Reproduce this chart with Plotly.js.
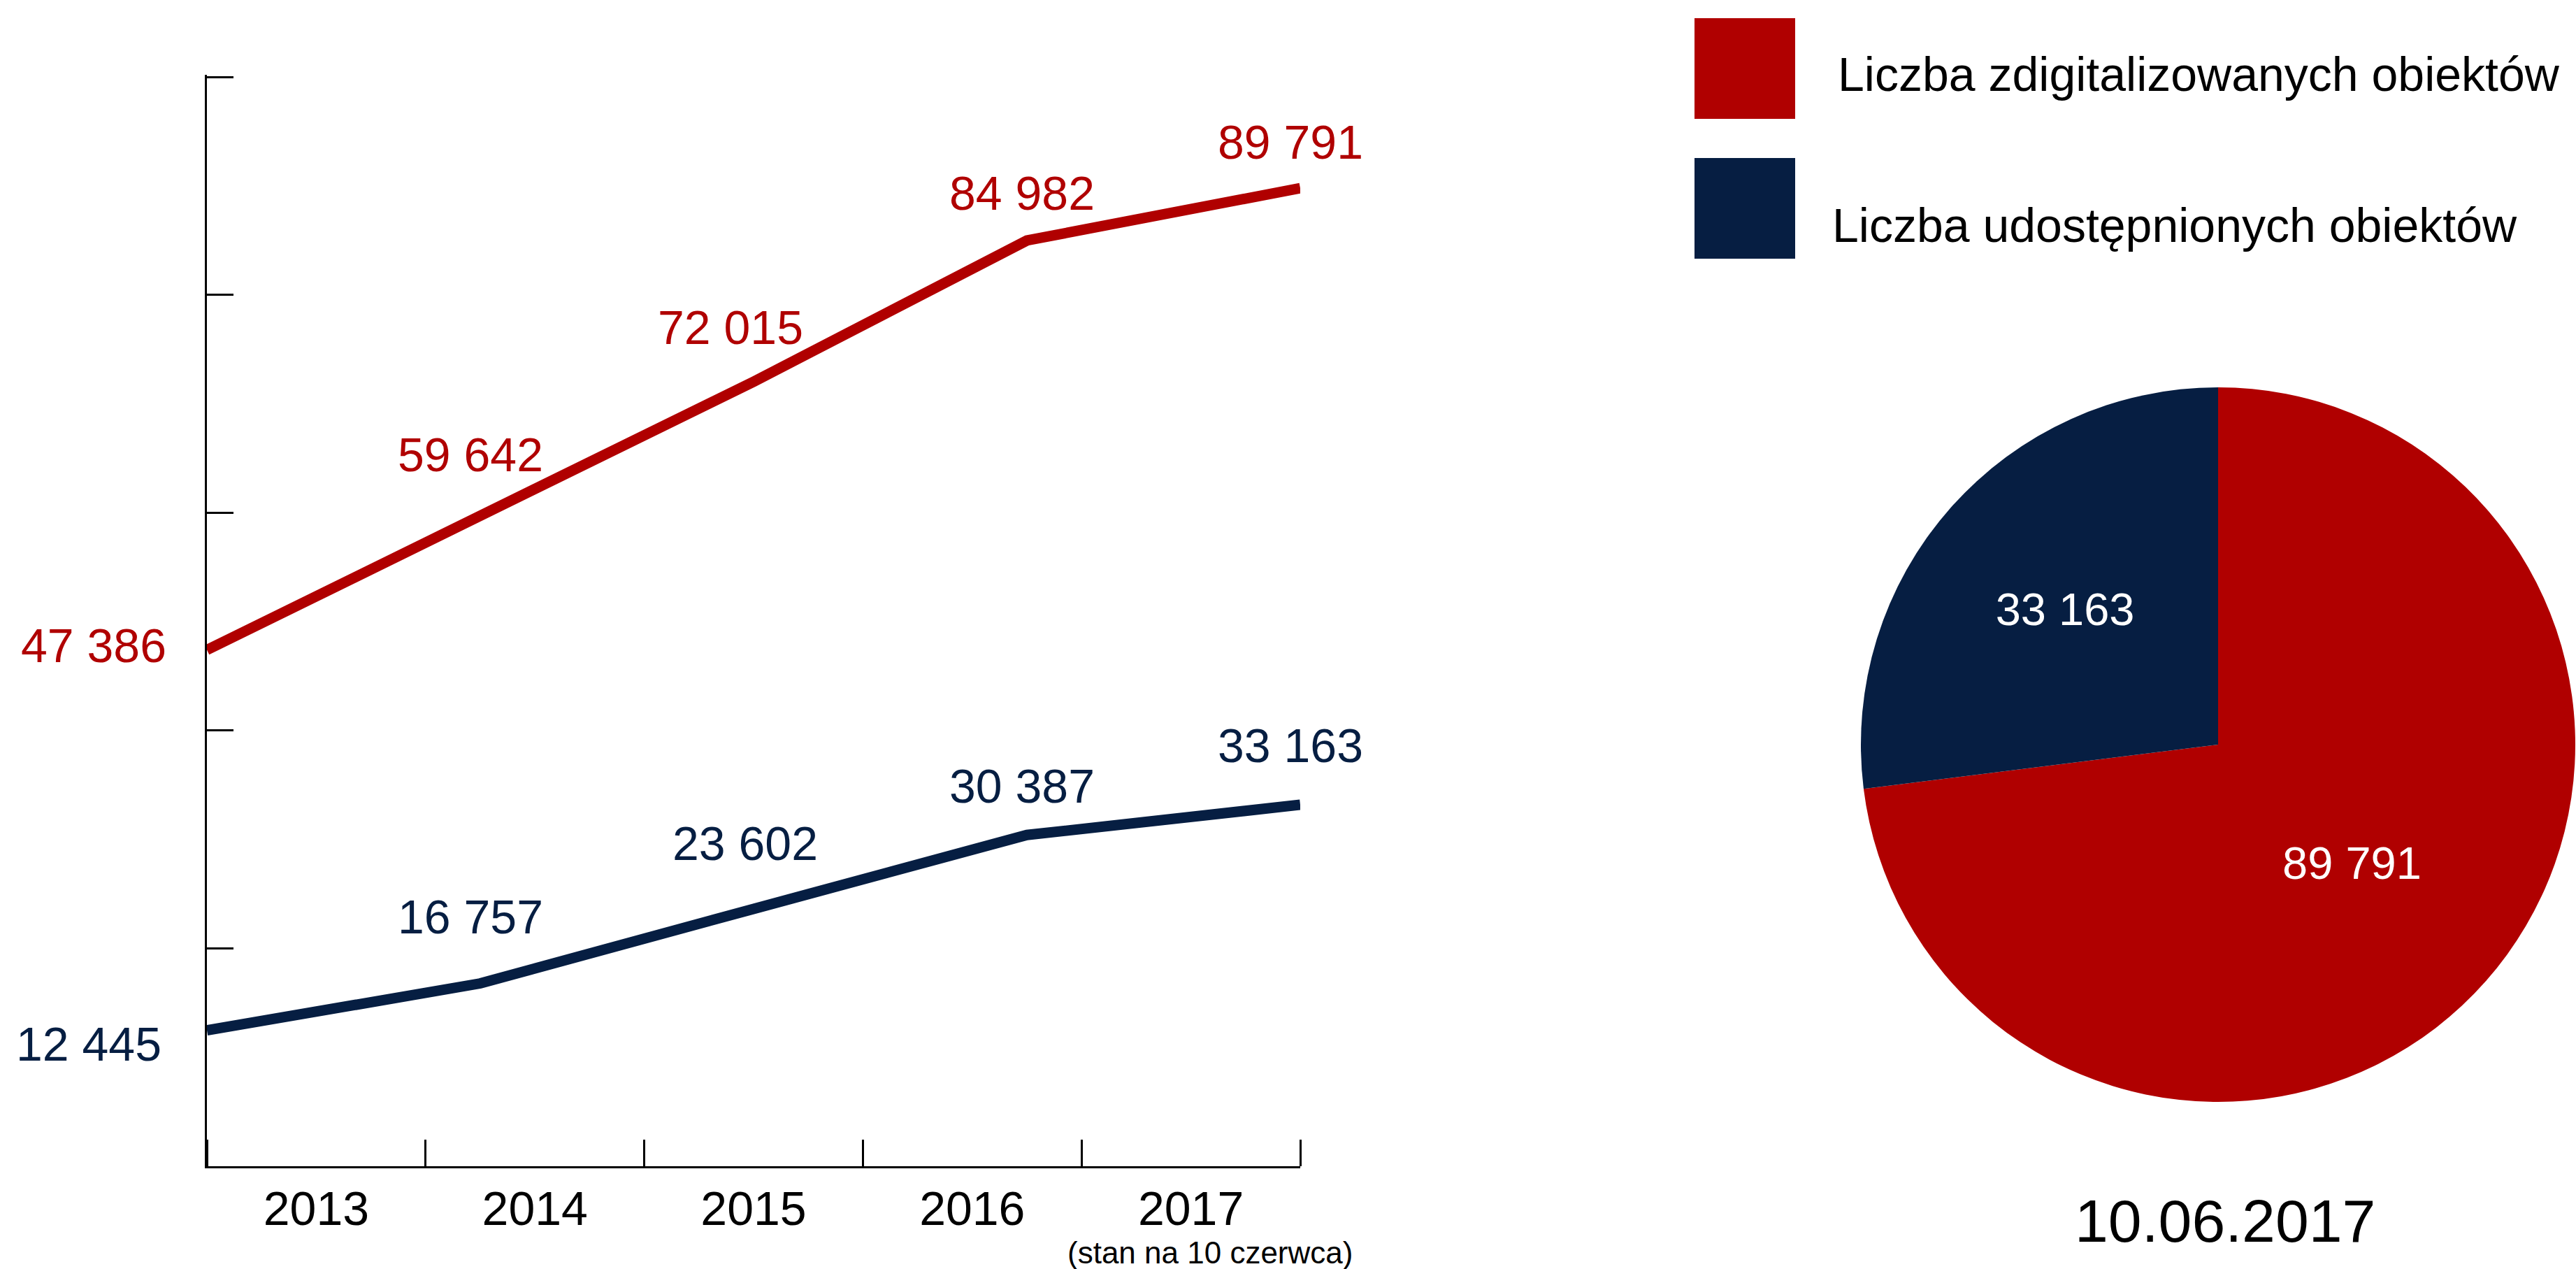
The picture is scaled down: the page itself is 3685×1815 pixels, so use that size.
<!DOCTYPE html>
<html>
<head>
<meta charset="utf-8">
<script src="https://cdn.plot.ly/plotly-3.0.1.min.js"></script>
<style>html,body{margin:0;padding:0;background:#fff;}#chart{width:3685px;height:1815px;}</style>
</head>
<body>
<div id="chart"></div>
<script>
// ---- data ----
const years = ['2013', '2014', '2015', '2016', '2017'];
const yearNums = [2013, 2014, 2015, 2016, 2017];
const digitized = [47386, 59642, 72015, 84982, 89791];
const shared = [12445, 16757, 23602, 30387, 33163];
const seriesNames = ['Liczba zdigitalizowanych obiektów', 'Liczba udostępnionych obiektów'];
const lastYearNote = '(stan na 10 czerwca)';
const pieDate = '10.06.2017';
const pieValues = [89791, 33163];
const yTicks = [0, 20000, 40000, 60000, 80000, 100000];

// ---- styles ----
const RED = '#B00000';
const NAVY = '#061E42';
const FONT = 'Liberation Sans, Arial, sans-serif';
const redShiftX = [-162, -14, -33, -7, -14];
const redShiftY = [7, 89, 78, 68, 66];
const navyShiftX = [-169, -14, -12, -7, -14];
const navyShiftY = [-19, 96, 94, 70, 85];

const fmt = v => String(v).replace(/\B(?=(\d{3})+(?!\d))/g, ' ');

const W = 3685, H = 1815;
const px = x => x / W;
const py = y => 1 - y / H;

// category bands of the year axis, expressed on the line's year scale
const x0 = yearNums[0], x1 = yearNums[yearNums.length - 1];
const band = (x1 - x0) / years.length;
const bandEdges = years.map((_, i) => x0 + i * band).concat([x1]);
const bandCenters = years.map((_, i) => x0 + (i + 0.5) * band);

const traces = [
  {
    type: 'scatter', mode: 'lines', x: yearNums, y: digitized, name: seriesNames[0],
    line: {color: RED, width: 15}, hoverinfo: 'skip'
  },
  {
    type: 'scatter', mode: 'lines', x: yearNums, y: shared, name: seriesNames[1],
    line: {color: NAVY, width: 15}, hoverinfo: 'skip'
  },
  {
    type: 'pie', values: pieValues, labels: seriesNames, sort: false,
    direction: 'clockwise', rotation: 0,
    marker: {colors: [RED, NAVY], line: {width: 0}},
    text: pieValues.map(fmt), textinfo: 'text', textposition: 'inside',
    insidetextorientation: 'horizontal',
    textfont: {size: 65, color: '#ffffff', family: FONT},
    domain: {x: [px(2662), px(3684)], y: [py(1577), py(553)]},
    hoverinfo: 'skip'
  }
];

const annotations = [];
digitized.forEach((v, i) => annotations.push({
  xref: 'x', yref: 'y', x: yearNums[i], y: v, text: fmt(v), showarrow: false,
  xanchor: 'center', yanchor: 'middle', xshift: redShiftX[i], yshift: redShiftY[i],
  font: {size: 68, color: RED, family: FONT}
}));
shared.forEach((v, i) => annotations.push({
  xref: 'x', yref: 'y', x: yearNums[i], y: v, text: fmt(v), showarrow: false,
  xanchor: 'center', yanchor: 'middle', xshift: navyShiftX[i], yshift: navyShiftY[i],
  font: {size: 68, color: NAVY, family: FONT}
}));
annotations.push({
  xref: 'paper', yref: 'paper', x: px(1731), y: py(1791), text: lastYearNote, showarrow: false,
  xanchor: 'center', yanchor: 'middle', font: {size: 44, color: '#000', family: FONT}
});
annotations.push({
  xref: 'paper', yref: 'paper', x: px(2627), y: py(106), text: seriesNames[0], showarrow: false,
  xanchor: 'left', yanchor: 'middle', font: {size: 68, color: '#000', family: FONT}
});
annotations.push({
  xref: 'paper', yref: 'paper', x: px(2619), y: py(322), text: seriesNames[1], showarrow: false,
  xanchor: 'left', yanchor: 'middle', font: {size: 68, color: '#000', family: FONT}
});
annotations.push({
  xref: 'paper', yref: 'paper', x: px(3183), y: py(1746), text: pieDate, showarrow: false,
  xanchor: 'center', yanchor: 'middle', font: {size: 86, color: '#000', family: FONT}
});

const shapes = [
  {type: 'rect', xref: 'paper', yref: 'paper', x0: px(2424), x1: px(2568), y0: py(170), y1: py(26),
   fillcolor: RED, line: {width: 0}},
  {type: 'rect', xref: 'paper', yref: 'paper', x0: px(2424), x1: px(2568), y0: py(370), y1: py(226),
   fillcolor: NAVY, line: {width: 0}}
];

const layout = {
  width: W, height: H,
  margin: {l: 0, r: 0, t: 0, b: 0},
  paper_bgcolor: '#ffffff', plot_bgcolor: 'rgba(0,0,0,0)',
  showlegend: false,
  font: {family: FONT, color: '#000'},
  xaxis: {
    domain: [px(296), px(1860)], range: [x0, x1],
    showgrid: false, zeroline: false, showline: true, linecolor: '#000', linewidth: 3,
    tickmode: 'array', tickvals: bandCenters, ticktext: years, ticks: '',
    showticklabels: true, tickfont: {size: 68, color: '#000', family: FONT},
    minor: {tickmode: 'array', tickvals: bandEdges, ticks: 'inside', ticklen: 38,
            tickwidth: 3, tickcolor: '#000', showgrid: false},
    anchor: 'y', fixedrange: true
  },
  yaxis: {
    domain: [py(1667.5), py(107)], range: [0, 100200],
    tickmode: 'array', tickvals: yTicks,
    ticks: 'inside', ticklen: 38, tickwidth: 3, tickcolor: '#000',
    showticklabels: false, showline: true, linewidth: 3, linecolor: '#000',
    showgrid: false, zeroline: false, anchor: 'x', fixedrange: true
  },
  annotations: annotations,
  shapes: shapes
};

Plotly.newPlot('chart', traces, layout, {staticPlot: true, displayModeBar: false});
</script>
</body>
</html>
